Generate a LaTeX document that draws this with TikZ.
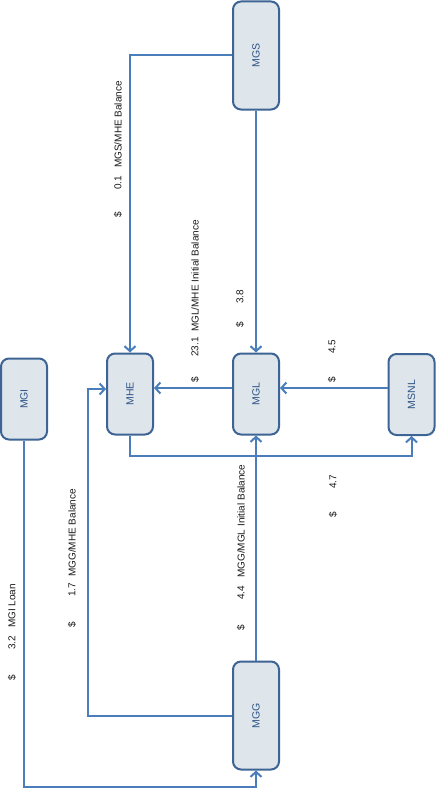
\documentclass[tikz,border=0pt]{standalone}
\usepackage{fontspec}
\setmainfont{Liberation Sans}
\usepackage{graphicx}
\usetikzlibrary{arrows.meta}
\definecolor{boxfill}{HTML}{DEE5EB}
\definecolor{boxline}{HTML}{3D6494}
\definecolor{boxtext}{HTML}{2F5587}
\definecolor{conncol}{HTML}{4A7EBB}
\definecolor{labcol}{HTML}{1A1A1A}
\tikzset{
  entity/.style={draw=boxline, fill=boxfill, line width=2pt, rounded corners=8pt,
    minimum width=46pt, minimum height=81pt, inner sep=0pt, text=boxtext, font=\fontsize{10.5}{12}\selectfont},
  tallentity/.style={entity, minimum height=108pt},
  conn/.style={draw=conncol, line width=2pt},
  arr/.style={conn, -{Straight Barb[length=5pt,width=11pt,line width=2pt]}},
  lab/.style={rotate=90, inner sep=0pt, text=labcol, font=\fontsize{10}{12}\selectfont},
  labtext/.style={lab, anchor=west}
}
\newcommand{\rt}[1]{\rotatebox{90}{#1}}
\begin{document}
\begin{tikzpicture}[x=1pt, y=-1pt]
\useasboundingbox (0,0) rectangle (436,792);
% boxes
\node[entity] (mgi) at (24,399) {\rt{MGI}};
\node[entity] (mhe) at (130,394) {\rt{MHE}};
\node[tallentity] (mgs) at (256,55.5) {\rt{MGS}};
\node[entity] (mgl) at (256,394) {\rt{MGL}};
\node[entity] (msnl) at (411.5,394.5) {\rt{MSNL}};
\node[tallentity] (mgg) at (256,715.5) {\rt{MGG}};
% helper coordinates
\coordinate (c1) at (0,456);
\coordinate (c2) at (88,389);
\coordinate (c3) at (0,787);
% connectors
\draw[arr] (mgs.west) -| (mhe.north);
\draw[arr] (mgs.south) -- (mgl.north);
\draw[arr] ([yshift=6pt]mgl.west) -- ([yshift=6pt]mhe.east);
\draw[arr] ([yshift=6.5pt]msnl.west) -- ([yshift=6pt]mgl.east);
\draw[arr] (mhe.south) -- (mhe.south |- c1) -| (msnl.south);
\draw[arr] (mgg.north) -- (mgl.south);
\draw[arr] (mgg.west) -| (c2) -- ([yshift=5pt]mhe.west);
\draw[arr] (mgi.south) -- (mgi.south |- c3) -| (mgg.south);
% labels
\node[lab] (l1d) at (118,215) {\$};
\node[lab] (l1n) at (118,183) {0.1};
\node[labtext] (l1t) at (118,168) {MGS/MHE Balance};
\node[lab] (l2d) at (195,380) {\$};
\node[lab] (l2n) at (195,347) {23.1};
\node[labtext] (l2t) at (195,332) {MGL/MHE Initial Balance};
\node[lab] (l3d) at (240,325) {\$};
\node[lab] (l3n) at (240,297) {3.8};
\node[lab] (l4d) at (332,380) {\$};
\node[lab] (l4n) at (332,347) {4.5};
\node[lab] (l5d) at (333,515) {\$};
\node[lab] (l5n) at (333,482) {4.7};
\node[lab] (l6d) at (241,628) {\$};
\node[lab] (l6n) at (241,593) {4.4};
\node[labtext] (l6t) at (241,578) {MGG/MGL Initial Balance};
\node[lab] (l7d) at (12,678) {\$};
\node[lab] (l7n) at (12,643) {3.2};
\node[labtext] (l7t) at (12,628) {MGI Loan};
\node[lab] (l8d) at (72,625) {\$};
\node[lab] (l8n) at (72,590) {1.7};
\node[labtext] (l8t) at (72,577) {MGG/MHE Balance};
\end{tikzpicture}
\end{document}
